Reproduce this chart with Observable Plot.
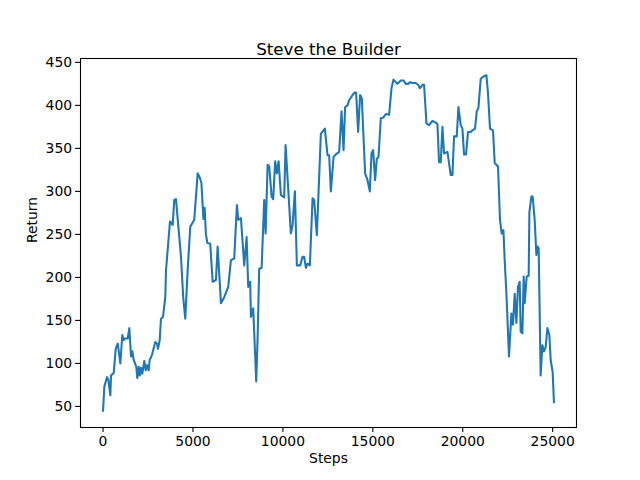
<!DOCTYPE html>
<html>
<head>
<meta charset="utf-8">
<script src="https://cdn.jsdelivr.net/npm/d3@7"></script>
<script src="https://cdn.jsdelivr.net/npm/@observablehq/plot@0.6"></script>
<style>
  html, body { margin: 0; padding: 0; background: white; }
</style>
</head>
<body>
<div id="chart"></div>
<script>
const title = "Steve the Builder";
const xLabel = "Steps";
const yLabel = "Return";
const xTicks = [0, 5000, 10000, 15000, 20000, 25000];
const yTicks = [50, 100, 150, 200, 250, 300, 350, 400, 450];

const steps = [
  0, 72, 222, 294, 406, 444, 594, 706, 817, 961, 1072, 1150, 1222, 1372, 1461, 1556, 1628, 1706, 1850, 1906,
  1983, 2039, 2111, 2183, 2294, 2372, 2444, 2539, 2594, 2722, 2906, 3000, 3056, 3150, 3222, 3333, 3461, 3500,
  3722, 3872, 3961, 4056, 4333, 4461, 4572, 4706, 4850, 5072, 5261, 5380, 5470, 5580, 5650, 5720, 5800, 5961, 6094, 6278, 6372,
  6556, 6739, 6961, 7111, 7294, 7444, 7517, 7667, 7850, 7983, 8072, 8183, 8222, 8350, 8461, 8517, 8594, 8683,
  8817, 8961, 9039, 9150, 9239, 9372, 9461, 9572, 9667, 9761, 9889, 10072, 10150, 10444, 10539, 10667, 10778,
  10961, 11094, 11183, 11278, 11372, 11500, 11650, 11739, 11889, 12111, 12333, 12483, 12572, 12667,
  12817, 12944, 13128, 13261, 13372, 13461, 13594, 13683, 13872, 14000, 14072, 14183, 14294, 14389, 14572,
  14706, 14833, 14928, 15017, 15128, 15222, 15317, 15444, 15594, 15722, 15906, 16039, 16150, 16278, 16372,
  16556, 16706, 16833, 16961, 17072, 17206, 17389, 17517, 17628, 17761, 17850, 17983, 18128, 18317, 18500,
  18594, 18683, 18778, 18872, 18961, 19150, 19333, 19428, 19517, 19667, 19761, 19889, 19983, 20072, 20183,
  20294, 20444, 20539, 20683, 20778, 20872, 21000, 21183, 21317, 21406, 21517, 21683, 21778, 21961, 22072,
  22167, 22261, 22333, 22444, 22572, 22706, 22794, 22889, 22983, 23072, 23167, 23222, 23317, 23389, 23444,
  23556, 23667, 23706, 23817, 23889, 24000, 24094, 24150, 24222, 24333, 24428, 24517, 24611, 24706, 24817,
  24889, 25000, 25072
];

const returns = [
  45, 73, 84, 81, 63, 86, 89, 117, 123, 100, 133, 127, 129, 129, 141, 108, 114, 104, 96, 83,
  96, 86, 95, 88, 103, 92, 98, 92, 104, 110, 125, 123, 117, 127, 152, 154, 177, 208,
  265, 261, 290, 291, 224, 176, 152, 209, 259, 267, 321, 316, 310, 268, 281, 250, 240, 239, 195, 197, 236,
  170, 177, 189, 220, 222, 284, 267, 269, 214, 247, 189, 195, 154, 164, 108, 79, 129, 210,
  211, 290, 251, 331, 329, 294, 291, 335, 321, 335, 296, 293, 354, 251, 261, 300, 214,
  214, 224, 224, 211, 216, 214, 292, 290, 249, 367, 373, 342, 342, 300,
  340, 343, 346, 393, 348, 398, 400, 406, 412, 415, 415, 369, 412, 408, 321,
  313, 300, 344, 348, 313, 338, 340, 385, 386, 390, 389, 420, 430, 427, 425,
  429, 429, 425, 425, 427, 426, 426, 424, 420, 424, 424, 379, 377, 382, 380,
  378, 334, 334, 375, 344, 346, 319, 319, 364, 364, 398, 377, 373, 343, 343,
  369, 369, 371, 373, 393, 397, 431, 434, 435, 414, 373, 371, 333, 329, 267,
  251, 255, 220, 174, 108, 158, 145, 181, 147, 189, 195, 137, 135, 201, 170,
  201, 202, 276, 294, 294, 267, 226, 236, 234, 86, 121, 114, 119, 141, 133,
  104, 90, 55
];

const data = steps.map((s, i) => ({step: s, ret: returns[i]}));

const xMin = d3.min(steps), xMax = d3.max(steps);
const yMin = d3.min(returns), yMax = d3.max(returns);
const xPad = (xMax - xMin) * 0.05, yPad = (yMax - yMin) * 0.05;

const chart = Plot.plot({
  width: 640,
  height: 480,
  marginLeft: 80,
  marginRight: 64,
  marginTop: 58,
  marginBottom: 53,
  style: {fontFamily: "DejaVu Sans", fontSize: "13.9px", background: "white", color: "black"},
  x: {domain: [xMin - xPad, xMax + xPad], label: null},
  y: {domain: [yMin - yPad, yMax + yPad], label: null},
  marks: [
    Plot.line(data, {x: "step", y: "ret", stroke: "#1f77b4", strokeWidth: 2.08, strokeLinejoin: "round", strokeLinecap: "square"}),
    Plot.frame({stroke: "black", strokeWidth: 1.1}),
    Plot.axisX({ticks: xTicks, tickSize: 4.9, tickPadding: 3.5, tickFormat: d => String(d), label: null, strokeWidth: 1.1}),
    Plot.axisY({ticks: yTicks, tickSize: 4.9, tickPadding: 3.5, tickFormat: d => String(d), label: null, strokeWidth: 1.1}),
    Plot.text([title], {frameAnchor: "top", dy: -15, fontSize: 16.7, text: d => d}),
    Plot.text([xLabel], {frameAnchor: "bottom", dy: 35, text: d => d}),
    Plot.text([yLabel], {frameAnchor: "left", dx: -48, rotate: -90, text: d => d})
  ]
});
document.getElementById("chart").appendChild(chart);
</script>
</body>
</html>
